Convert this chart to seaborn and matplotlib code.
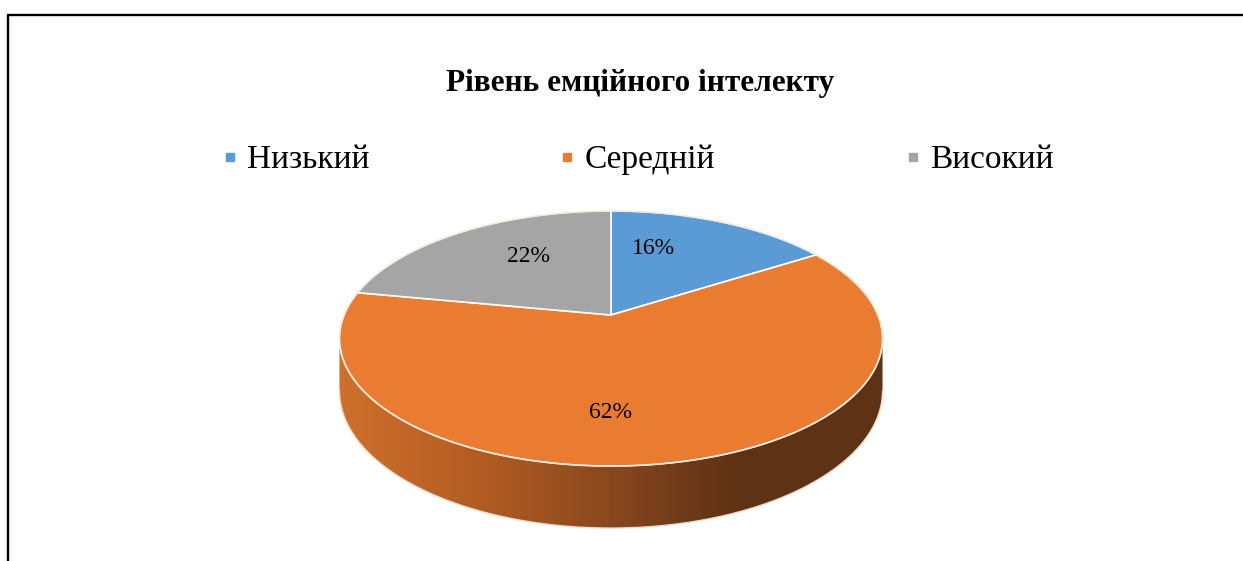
import matplotlib
matplotlib.use('agg')

import numpy as np
import seaborn as sns
import matplotlib.pyplot as plt
from matplotlib.patches import Polygon
from matplotlib.lines import Line2D
from matplotlib.colors import LinearSegmentedColormap


sns.set_style('white')
plt.rcParams['font.family'] = ['Liberation Serif', 'DejaVu Serif']

title = 'Рівень емційного інтелекту'
categories = ['Низький', 'Середній', 'Високий']
values = [16, 62, 22]
labels = ['16%', '62%', '22%']

colors = sns.color_palette(['#5B9BD5', '#E97C30', '#A5A5A5'])

# pie geometry in pixels (perspective tilt)
cx, cy = 611, 315
rx, ry = 266.9, 123.2
k = 0.1843          # perspective: far side smaller
depth = 50.6        # thickness of the disk


def proj(t, bottom=False):
    u, v = np.cos(t), np.sin(t)
    d = 1 + k * v
    x = cx + rx * u / d
    y = cy - ry * v / d
    if bottom:
        y = y + depth / d
    return x, y


fig = plt.figure(figsize=(12.43, 5.61), dpi=100)
ax = fig.add_axes([0, 0, 1, 1])
ax.set_xlim(0, 1243)
ax.set_ylim(561, 0)
ax.axis('off')

# side wall (front half is all the middle slice), shaded left->right
side_cmap = LinearSegmentedColormap.from_list(
    'side', [(0.0, '#CF702C'), (0.26, '#B25C23'), (0.48, '#8C4A1E'),
             (0.66, '#6A3818'), (0.74, '#5E3214'), (1.0, '#5E3214')])
tang = np.arcsin(k)
ts = np.linspace(np.pi + tang, 2 * np.pi - tang, 300)
tx, ty = proj(ts)
bx, by = proj(ts, True)
side = Polygon(list(zip(tx, ty)) + list(zip(bx[::-1], by[::-1])),
               closed=True, facecolor='none', edgecolor='none')
ax.add_patch(side)
grad = np.linspace(0, 1, 512).reshape(1, -1)
img = ax.imshow(grad, cmap=side_cmap, aspect='auto',
                extent=(tx.min(), tx.max(), by.max() + 2, ty.min() - 2),
                interpolation='bilinear', zorder=1)
img.set_clip_path(side)
ax.set_xlim(0, 1243)
ax.set_ylim(561, 0)
ax.plot(bx, by, color='#F3DCC4', lw=1.0, zorder=2)

# top face wedges
total = sum(values)
start = 90.0
for val, col in zip(values, colors):
    end = start - 360.0 * val / total
    t = np.radians(np.linspace(start, end, 200))
    px, py = proj(t)
    pts = [(cx, cy)] + list(zip(px, py))
    ax.add_patch(Polygon(pts, closed=True, facecolor=col, zorder=3,
                         edgecolor='white', lw=1.2, joinstyle='round'))
    start = end

tt = np.linspace(0, 2 * np.pi, 400)
ox, oy = proj(tt)
ax.plot(ox, oy, color='#F6E6D6', lw=0.9, zorder=4)

# data labels
label_xy = [(653, 248), (611, 412), (529, 256)]
for lab, (lx, ly) in zip(labels, label_xy):
    ax.text(lx, ly, lab, ha='center', va='center', fontsize=17,
            color='black', zorder=5)

fig.text(640 / 1243, 1 - 83 / 561, title, ha='center', va='center',
         fontsize=22.5, fontweight='bold', color='black')

handles = [Line2D([], [], marker='s', linestyle='', color=c, markersize=6)
           for c in colors]
fig.legend(handles, categories, loc='center', ncol=3,
           bbox_to_anchor=(638 / 1243, 1 - 160 / 561), frameon=False,
           fontsize=24, labelcolor='black', handlelength=0.45,
           handletextpad=0.3, columnspacing=5.7)

# chart frame
fig.add_artist(Line2D([8 / 1243, 1], [1 - 15 / 561, 1 - 15 / 561],
                      color='black', lw=1.7, transform=fig.transFigure))
fig.add_artist(Line2D([8 / 1243, 8 / 1243], [0, 1 - 15 / 561],
                      color='black', lw=1.7, transform=fig.transFigure))

fig.savefig('out.png', dpi=100)
